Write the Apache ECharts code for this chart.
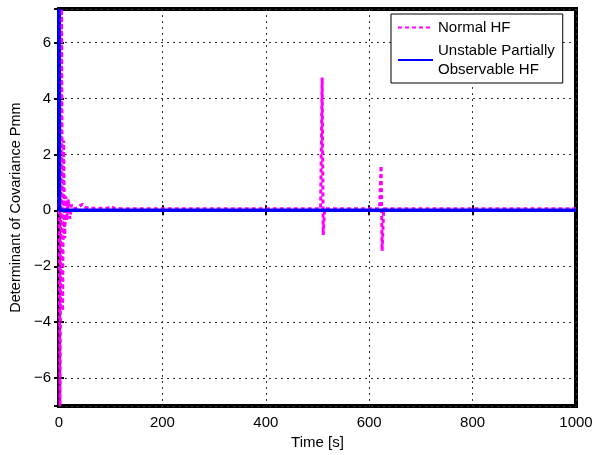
<!DOCTYPE html>
<html>
<head>
<meta charset="utf-8">
<script src="https://cdn.jsdelivr.net/npm/echarts@6/dist/echarts.min.js"></script>
<style>
html,body{margin:0;padding:0;background:#fff;}
#chart{width:603px;height:455px;}
</style>
</head>
<body>
<div id="chart"></div>
<script>
// Time axis (s)
var xTicks = [0, 200, 400, 600, 800, 1000];
var yTickLabels = [-6, -4, -2, 0, 2, 4, 6];

// Normal HF (magenta dotted)
var normalT = [0, 2, 5, 7, 9, 11, 13, 15, 18, 21, 24, 28, 35, 45, 52, 60, 75, 90, 100, 108, 120, 200, 300, 400, 506, 509, 511, 514, 620, 623, 625, 628, 800, 1000];
var normalV = [0.5, -7.0, 7.2, -3.6, 2.5, -1.0, 0.5, -0.35, 0.4, -0.3, 0.2, 0.06, 0.08, 0.22, 0.1, 0.07, 0.08, 0.06, 0.13, 0.07, 0.06, 0.06, 0.06, 0.06, 0.06, 4.75, -0.88, 0.06, 0.06, 1.6, -1.45, 0.06, 0.06, 0.06];

// Unstable Partially Observable HF (blue solid)
var unstableT = [0, 1, 200, 400, 600, 800, 1000];
var unstableV = [7.2, 0.0, 0.0, 0.0, 0.0, 0.0, 0.0];

var seriesNames = ['Normal HF', 'Unstable Partially\nObservable HF'];

function zip(a, b) { return a.map(function (v, i) { return [v, b[i]]; }); }

var FONT = '"Liberation Sans", Arial, Helvetica, sans-serif';
var chart = echarts.init(document.getElementById('chart'), null, { renderer: 'canvas' });

var tickStyle = { show: true, inside: true, length: 5, lineStyle: { color: '#000', width: 2 } };
var gridLine = { show: true, lineStyle: { color: '#333', type: [2, 4], width: 1 } };

chart.setOption({
  animation: false,
  backgroundColor: '#fff',
  grid: { left: 57, right: 27, top: 9, bottom: 42, show: true, borderColor: '#000', borderWidth: 4, backgroundColor: 'transparent' },
  legend: {
    orient: 'vertical', left: 391, top: 14,
    padding: [4, 8, 4, 6], itemGap: 4, itemWidth: 35, itemHeight: 14,
    backgroundColor: '#fff', borderColor: '#000', borderWidth: 1, borderRadius: 0,
    itemStyle: { opacity: 0 },
    textStyle: { fontFamily: FONT, fontSize: 15, color: '#000', lineHeight: 19 },
    data: seriesNames
  },
  xAxis: [{
    type: 'value', min: xTicks[0], max: xTicks[xTicks.length - 1], interval: 200,
    name: 'Time [s]', nameLocation: 'middle', nameGap: 23,
    nameTextStyle: { fontFamily: FONT, fontSize: 15, color: '#000' },
    axisLine: { show: false }, axisTick: tickStyle,
    axisLabel: { fontFamily: FONT, fontSize: 15, color: '#000', margin: 9, formatter: function (v) { return String(v); } },
    splitLine: gridLine
  }, {
    type: 'value', position: 'top', min: xTicks[0], max: xTicks[xTicks.length - 1], interval: 200,
    axisLine: { show: false }, axisTick: tickStyle, axisLabel: { show: false }, splitLine: { show: false }
  }],
  yAxis: [{
    type: 'value', min: -7, max: 7.2, splitNumber: 7,
    name: 'Determinant of Covariance Pmm', nameLocation: 'middle', nameGap: 33,
    nameTextStyle: { fontFamily: FONT, fontSize: 14.5, color: '#000' },
    axisLine: { show: false }, axisTick: tickStyle,
    axisLabel: {
      fontFamily: FONT, fontSize: 15, color: '#000', margin: 8,
      showMinLabel: false, showMaxLabel: false,
      formatter: function (v) {
        if (yTickLabels.indexOf(v) < 0) return '';
        return v < 0 ? '\u2212' + (-v) : String(v);
      }
    },
    splitLine: gridLine
  }, {
    type: 'value', position: 'right', min: -7, max: 7.2, splitNumber: 7,
    axisLine: { show: false }, axisTick: tickStyle, axisLabel: { show: false }, splitLine: { show: false }
  }],
  series: [{
    name: seriesNames[0], type: 'line', showSymbol: false, symbol: 'none', clip: true,
    data: zip(normalT, normalV),
    lineStyle: { color: '#ff00ff', width: 3, type: [4, 3] },
    itemStyle: { color: '#ff00ff' }, z: 2
  }, {
    name: seriesNames[1], type: 'line', showSymbol: false, symbol: 'none', clip: true,
    data: zip(unstableT, unstableV),
    lineStyle: { color: '#0000ff', width: 3.5 },
    itemStyle: { color: '#0000ff' }, z: 3
  }]
});
</script>
</body>
</html>
